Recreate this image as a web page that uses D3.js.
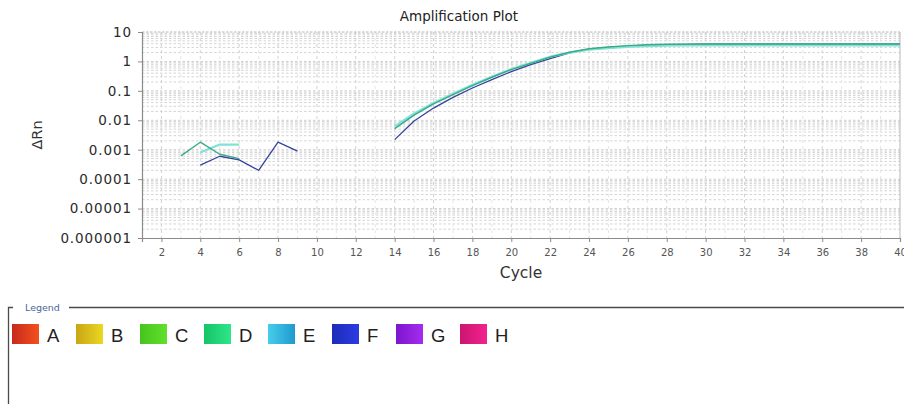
<!DOCTYPE html>
<html>
<head>
<meta charset="utf-8">
<script src="https://cdn.jsdelivr.net/npm/d3@7/dist/d3.min.js"></script>
<style>
  html, body { margin: 0; padding: 0; background: #fff; }
  svg { display: block; }
</style>
</head>
<body>
<svg id="chart" width="904" height="404"></svg>
<script>
// Cycle numbers 1..40
const cycles = d3.range(1, 41);

// ΔRn per cycle for each well (null = not plotted)
const wellD = [null, null, 0.00062, 0.0018, 0.0007, 0.0005, null, null, null, null,
  null, null, null, 0.0052, 0.015, 0.036, 0.075, 0.15, 0.29, 0.53,
  0.86, 1.4, 2.05, 2.7, 3.1, 3.45, 3.7, 3.85, 3.88, 3.9,
  3.9, 3.9, 3.9, 3.9, 3.9, 3.9, 3.9, 3.9, 3.9, 3.9];
const wellE = [null, null, null, 0.0008, 0.0015, 0.0015, null, null, null, null,
  null, null, null, 0.0062, 0.017, 0.039, 0.08, 0.16, 0.3, 0.55,
  0.9, 1.45, 2.0, 2.5, 2.85, 3.1, 3.3, 3.45, 3.5, 3.5,
  3.5, 3.5, 3.5, 3.5, 3.5, 3.5, 3.5, 3.5, 3.5, 3.5];
const wellF = [null, null, null, 0.0003, 0.0006, 0.00045, 0.0002, 0.0018, 0.0009, null,
  null, null, null, 0.0022, 0.0095, 0.026, 0.06, 0.125, 0.24, 0.45,
  0.78, 1.25, 1.95, 2.6, 3.0, 3.3, 3.55, 3.75, 3.82, 3.85,
  3.85, 3.85, 3.85, 3.85, 3.85, 3.85, 3.85, 3.85, 3.85, 3.85];

// Axis tick labels
const yTickValues = [10, 1, 0.1, 0.01, 0.001, 0.0001, 0.00001, 0.000001];
const yTickLabels = ["10", "1", "0.1", "0.01", "0.001", "0.0001", "0.00001", "0.000001"];
const xTickValues = d3.range(2, 41, 2);

// Legend entries
const legendNames = ["A", "B", "C", "D", "E", "F", "G", "H"];
const legendFrom = ["#c62a1c", "#c9a514", "#46c41e", "#16c466", "#46cdea", "#1c2cb8", "#7c16cc", "#cc1670"];
const legendTo   = ["#f4501e", "#ead822", "#62e02c", "#2ee68a", "#1f9ad0", "#2c3ce2", "#a52cf0", "#f2228e"];

const svg = d3.select("#chart");
const font = "'DejaVu Sans', Verdana, sans-serif";

const x = d3.scaleLinear().domain([1, 40]).range([142, 900]);
const y = d3.scaleLog().domain([0.000001, 10]).range([238, 32]);

// Grid
const grid = svg.append("g");
// horizontal minor lines
const minorY = [];
for (let e = -6; e < 1; e++) for (let k = 2; k <= 9; k++) minorY.push(k * Math.pow(10, e));
grid.selectAll("line.hmin").data(minorY).join("line")
  .attr("x1", x(1)).attr("x2", x(40))
  .attr("y1", d => y(d)).attr("y2", d => y(d))
  .attr("stroke", "#d4d4d4").attr("stroke-width", 1)
  .attr("stroke-dasharray", "2.5,2");
// vertical lines at every cycle
grid.selectAll("line.v").data(d3.range(2, 40)).join("line")
  .attr("x1", d => x(d)).attr("x2", d => x(d))
  .attr("y1", y(10)).attr("y2", y(0.000001))
  .attr("stroke", d => d % 2 === 0 ? "#d2d2d2" : "#e6e6e6").attr("stroke-width", 1)
  .attr("stroke-dasharray", "3,3");
// decade lines
grid.selectAll("line.hmaj").data(yTickValues.slice(1, -1)).join("line")
  .attr("x1", x(1)).attr("x2", x(40))
  .attr("y1", d => y(d)).attr("y2", d => y(d))
  .attr("stroke", "#cfcfcf").attr("stroke-width", 1)
  .attr("stroke-dasharray", "2.5,2");

// Frame
svg.append("line").attr("x1", x(1)).attr("x2", x(40)).attr("y1", y(10)).attr("y2", y(10))
  .attr("stroke", "#b4b4b4").attr("stroke-dasharray", "2.5,1.5");
svg.append("line").attr("x1", x(40)).attr("x2", x(40)).attr("y1", y(10)).attr("y2", y(0.000001))
  .attr("stroke", "#b8b8b8");

// Axes
const yAxis = d3.axisLeft(y).tickValues(yTickValues)
  .tickFormat((d, i) => yTickLabels[i]).tickSize(4).tickPadding(6);
const gy = svg.append("g").attr("transform", `translate(${x(1)},0)`).call(yAxis);
gy.select(".domain").attr("stroke", "#8a8a8a").attr("stroke-width", 1.2);
gy.selectAll(".tick line").attr("stroke", "#8a8a8a");
gy.selectAll("text").attr("font-family", font).attr("font-size", 13.5)
  .attr("letter-spacing", 0.9).attr("fill", "#2a2a2a");

const xAxis = d3.axisBottom(x).tickValues(xTickValues).tickFormat(d3.format("d"))
  .tickSize(4).tickPadding(7);
const gx = svg.append("g").attr("transform", `translate(0,${y(0.000001)})`).call(xAxis);
gx.select(".domain").attr("stroke", "#8a8a8a").attr("stroke-width", 1.2);
gx.selectAll(".tick line").attr("stroke", "#8a8a8a");
gx.selectAll("text").attr("font-family", font).attr("font-size", 10)
  .attr("fill", "#555");

// Titles
svg.append("text").attr("x", 459).attr("y", 21).attr("text-anchor", "middle")
  .attr("font-family", font).attr("font-size", 13.5).attr("fill", "#222")
  .text("Amplification Plot");
svg.append("text").attr("x", 521).attr("y", 278).attr("text-anchor", "middle")
  .attr("font-family", font).attr("font-size", 15.5).attr("fill", "#333")
  .text("Cycle");
svg.append("text").attr("transform", "translate(42,135) rotate(-90)")
  .attr("text-anchor", "middle")
  .attr("font-family", font).attr("font-size", 14.5).attr("fill", "#333")
  .text("ΔRn");

// Amplification curves
const line = d3.line()
  .defined(d => d.v != null)
  .x(d => x(d.c)).y(d => y(d.v));
const series = [
  { values: wellF, color: "#36429e", width: 1.3 },
  { values: wellE, color: "#7fe3d6", width: 2.2 },
  { values: wellD, color: "#3aaa88", width: 1.4 }
];
svg.append("g").selectAll("path").data(series).join("path")
  .attr("d", s => line(cycles.map((c, i) => ({ c, v: s.values[i] }))))
  .attr("fill", "none")
  .attr("stroke", s => s.color)
  .attr("stroke-width", s => s.width)
  .attr("stroke-linejoin", "round");

// Legend panel
const legend = svg.append("g");
legend.append("path")
  .attr("d", "M8.5,404 L8.5,307.5 L13,307.5 M69,307.5 L904,307.5")
  .attr("fill", "none").attr("stroke", "#4a4a4a").attr("stroke-width", 1.3);
legend.append("text").attr("x", 25).attr("y", 311)
  .attr("font-family", font).attr("font-size", 9.5).attr("fill", "#4a6898")
  .text("Legend");

const defs = svg.append("defs");
legendNames.forEach((n, i) => {
  const g = defs.append("linearGradient").attr("id", "sw" + i)
    .attr("x1", "0%").attr("x2", "100%").attr("y1", "0%").attr("y2", "0%");
  g.append("stop").attr("offset", "0%").attr("stop-color", legendFrom[i]);
  g.append("stop").attr("offset", "100%").attr("stop-color", legendTo[i]);
});
const items = legend.selectAll("g.item").data(legendNames).join("g")
  .attr("transform", (d, i) => `translate(${12 + i * 64},324)`);
items.append("rect").attr("width", 27).attr("height", 20)
  .attr("fill", (d, i) => `url(#sw${i})`);
items.append("text").attr("x", 35).attr("y", 18)
  .attr("font-family", "'Liberation Sans', Arial, sans-serif").attr("font-size", 18.5)
  .attr("fill", "#222").text(d => d);
</script>
</body>
</html>
